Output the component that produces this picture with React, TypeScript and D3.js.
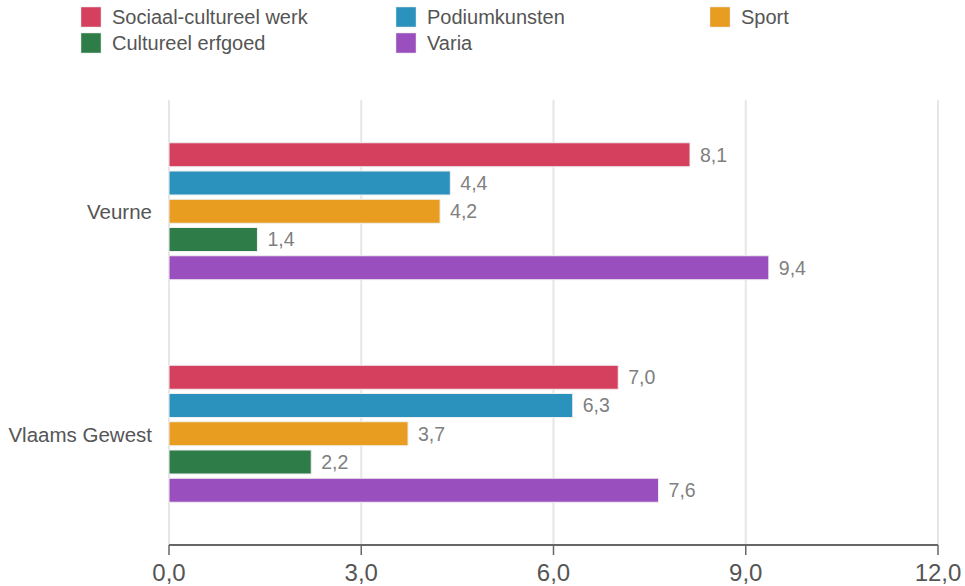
import React from "react";
import * as d3 from "d3";

const categories = ["Veurne", "Vlaams Gewest"];
const seriesNames = ["Sociaal-cultureel werk", "Podiumkunsten", "Sport", "Cultureel erfgoed", "Varia"];
const seriesColors = ["#d6405f", "#2b92be", "#e89c20", "#2e7d48", "#9a4fbe"];
const veurneValues = [8.13, 4.39, 4.23, 1.38, 9.36];
const vlaamsValues = [7.01, 6.3, 3.73, 2.22, 7.64];
const tickValues = [0, 3, 6, 9, 12];

const W = 965;
const H = 586;
const M = { left: 169, right: 27, top: 100, bottom: 41 };

export default function App() {
  const values = [veurneValues, vlaamsValues];
  const x = d3.scaleLinear().domain([0, 12]).range([M.left, W - M.right]);
  const y0 = d3.scaleBand<string>().domain(categories).range([M.top, H - M.bottom]).padding(0);
  const groupSpan = 137;
  const y1 = d3
    .scaleBand<string>()
    .domain(seriesNames)
    .range([0, groupSpan])
    .paddingInner(0.15)
    .paddingOuter(0);
  const off = (y0.bandwidth() - groupSpan) / 2;
  const fmt = (v: number) => d3.format(".1f")(v).replace(".", ",");
  const axisY = H - M.bottom;
  const font = "'Liberation Sans', Arial, sans-serif";
  const legendCols = [81, 396, 710];

  return (
    <svg
      width={W}
      height={H}
      style={{ position: "absolute", left: 0, top: 0, background: "#fff" }}
      fontFamily={font}
    >
      {/* legend */}
      {seriesNames.map((s, i) => {
        const col = i % 3;
        const row = Math.floor(i / 3);
        const lx = legendCols[col];
        const ly = 7 + row * 26;
        return (
          <g key={s}>
            <rect x={lx} y={ly} width={20} height={20} fill={seriesColors[i]} stroke="#ddd" strokeWidth={0.5} />
            <text x={lx + 31} y={ly + 17} fontSize={20} fill="#555">
              {s}
            </text>
          </g>
        );
      })}

      {/* grid */}
      {tickValues.map((t) => (
        <line key={t} x1={x(t)} x2={x(t)} y1={M.top} y2={axisY} stroke="#e6e6e6" strokeWidth={2} />
      ))}

      {/* bars */}
      {categories.map((c, ci) => (
        <g key={c} transform={`translate(0,${(y0(c) as number) + off})`}>
          {seriesNames.map((s, si) => {
            const v = values[ci][si];
            const by = y1(s) as number;
            return (
              <g key={s}>
                <rect
                  x={x(0)}
                  y={by}
                  width={x(v) - x(0)}
                  height={y1.bandwidth()}
                  fill={seriesColors[si]}
                  stroke="#f0f0f0"
                  strokeWidth={1}
                />
                <text
                  x={x(v) + 10}
                  y={by + y1.bandwidth() / 2}
                  dy="0.35em"
                  fontSize={19.5}
                  fill="#808080"
                >
                  {fmt(v)}
                </text>
              </g>
            );
          })}
          <text
            x={152}
            y={y0.bandwidth() / 2 - off + 1}
            dy="0.35em"
            textAnchor="end"
            fontSize={20.5}
            fill="#555"
          >
            {c}
          </text>
        </g>
      ))}

      {/* x axis */}
      <line x1={x(0)} x2={x(12)} y1={axisY} y2={axisY} stroke="#666" strokeWidth={2} />
      {tickValues.map((t) => (
        <g key={t}>
          <line x1={x(t)} x2={x(t)} y1={axisY} y2={axisY + 10} stroke="#666" strokeWidth={1.5} />
          <text
            x={x(t)}
            y={581}
            textAnchor="middle"
            fontSize={24}
            fill="#555"
            fontFamily="'Liberation Sans Narrow', 'Arial Narrow', sans-serif"
          >
            {fmt(t)}
          </text>
        </g>
      ))}
    </svg>
  );
}
